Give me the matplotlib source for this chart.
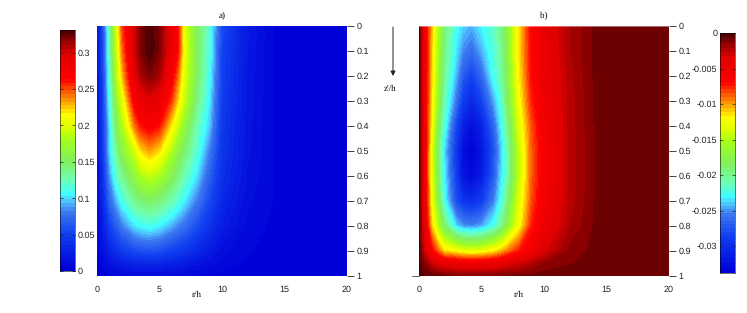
import numpy as np
import matplotlib
matplotlib.use('Agg')
import matplotlib.pyplot as plt
from matplotlib.colors import LinearSegmentedColormap

plt.rcParams['font.family'] = ['Liberation Sans', 'DejaVu Sans']
plt.rcParams['text.hinting'] = 'no_hinting'
plt.rcParams['text.hinting_factor'] = 1

# valores
r = [0, 0.5, 1, 1.5, 2, 3, 3.5, 4.2, 5, 6, 6.5, 7, 8, 9, 10, 12, 14, 20]
z = [0, 0.1, 0.2, 0.3, 0.4, 0.5, 0.6, 0.7, 0.8, 0.9, 0.95, 1.0]

phi_a = [
    [.012, .060, .125, .190, .250, .300, .320, .330, .320, .285, .260, .200, .150, .115, .055, .022, .0052, .004],
    [.012, .058, .120, .185, .240, .300, .320, .331, .320, .285, .260, .205, .150, .112, .052, .021, .0052, .004],
    [.012, .055, .115, .175, .225, .290, .310, .320, .310, .270, .240, .198, .148, .108, .050, .020, .0052, .004],
    [.011, .052, .108, .160, .200, .270, .285, .295, .285, .250, .220, .190, .140, .102, .047, .019, .0052, .004],
    [.010, .050, .100, .145, .180, .240, .260, .270, .260, .215, .190, .165, .125, .095, .044, .018, .0052, .004],
    [.010, .046, .098, .130, .160, .195, .220, .232, .220, .180, .160, .145, .115, .080, .042, .017, .0052, .004],
    [.009, .040, .085, .115, .135, .165, .180, .190, .180, .155, .140, .125, .100, .068, .038, .015, .0052, .004],
    [.008, .034, .070, .090, .110, .135, .143, .148, .143, .125, .115, .103, .080, .055, .032, .012, .0052, .004],
    [.006, .024, .050, .065, .080, .100, .106, .110, .104, .090, .082, .075, .058, .040, .024, .009, .0042, .004],
    [.004, .014, .028, .038, .046, .056, .058, .060, .058, .050, .046, .042, .032, .022, .012, .0055, .004, .004],
    [.002, .007, .014, .019, .024, .030, .031, .032, .030, .027, .025, .022, .017, .012, .007, .0045, .004, .004],
    [.000, .002, .004, .005, .006, .007, .007, .007, .007, .006, .006, .005, .004, .0035, .0035, .004, .004, .004],
]

phi_b = [
    [-.0005, -.0060, -.0105, -.0150, -.0190, -.0228, -.0238, -.0245, -.0231, -.0215, -.0200, -.0178, -.0115, -.0066, -.0045, -.0022, -.0010, -.0008],
    [-.0005, -.0060, -.0108, -.0155, -.0195, -.0235, -.0252, -.0262, -.0245, -.0220, -.0205, -.0180, -.0115, -.0068, -.0048, -.0022, -.0010, -.0008],
    [-.0005, -.0060, -.0110, -.0160, -.0200, -.0245, -.0270, -.0285, -.0265, -.0225, -.0210, -.0185, -.0118, -.0070, -.0050, -.0024, -.0010, -.0008],
    [-.0005, -.0060, -.0115, -.0165, -.0210, -.0260, -.0290, -.0305, -.0285, -.0245, -.0225, -.0190, -.0125, -.0075, -.0052, -.0025, -.0010, -.0008],
    [-.0005, -.0060, -.0120, -.0180, -.0220, -.0285, -.0310, -.0325, -.0310, -.0265, -.0235, -.0205, -.0135, -.0085, -.0056, -.0025, -.00106, -.0008],
    [-.0005, -.0060, -.0130, -.0190, -.0235, -.0295, -.0325, -.0338, -.0320, -.0275, -.0245, -.0215, -.0145, -.0088, -.0060, -.0026, -.00106, -.0008],
    [-.0005, -.0060, -.0130, -.0185, -.0230, -.0290, -.0320, -.0330, -.0315, -.0270, -.0240, -.0215, -.0145, -.0088, -.0060, -.0026, -.00106, -.0008],
    [-.0005, -.0058, -.0125, -.0175, -.0225, -.0280, -.0295, -.0300, -.0290, -.0255, -.0230, -.0200, -.0135, -.0085, -.0056, -.0025, -.00106, -.0008],
    [-.0005, -.0050, -.0110, -.0150, -.0190, -.0240, -.0250, -.0255, -.0248, -.0225, -.0205, -.0178, -.0125, -.0075, -.0050, -.0022, -.0010, -.0008],
    [-.0005, -.0035, -.0065, -.0090, -.0115, -.0125, -.0132, -.0135, -.0132, -.0120, -.0110, -.0098, -.0075, -.0055, -.0035, -.0015, -.0009, -.0008],
    [-.0004, -.0015, -.0030, -.0038, -.0045, -.0050, -.0052, -.0053, -.0052, -.0050, -.0045, -.0040, -.0032, -.0024, -.0016, -.0011, -.0009, -.0008],
    [-.0003, -.0006, -.0007, -.0008, -.0009, -.0012, -.0012, -.0012, -.0012, -.0011, -.0011, -.0010, -.0010, -.0009, -.0008, -.0008, -.0008, -.0008],
]

ticks_x = [0, 5, 10, 15, 20]
ticks_z = [0, .1, .2, .3, .4, .5, .6, .7, .8, .9, 1]
labels_z = ['0', '0.1', '0.2', '0.3', '0.4', '0.5', '0.6', '0.7', '0.8', '0.9', '1']
ticks_ca = [0, .05, .1, .15, .2, .25, .3]
labels_ca = ['0', '0.05', '0.1', '0.15', '0.2', '0.25', '0.3']
ticks_cb = [0, -.005, -.01, -.015, -.02, -.025, -.03]
labels_cb = ['0', '-0.005', '-0.01', '-0.015', '-0.02', '-0.025', '-0.03']

# mapa de cores parecido com o da figura (nao e o jet puro)
cores = [(0.0, '#0000d8'), (0.15, '#1040f0'), (0.24, '#3c78f0'), (0.287, '#50c8ff'), (0.317, '#40ffff'),
         (0.38, '#70ffb0'), (0.453, '#80f060'), (0.54, '#a0ff20'), (0.60, '#e0ff00'), (0.65, '#ffff00'),
         (0.725, '#ff8000'), (0.80, '#ff0000'), (0.906, '#e00000'), (0.965, '#900000'), (1.0, '#500000')]
mapa = LinearSegmentedColormap.from_list('figura', cores, N=64)

W, H = 747, 313
fig = plt.figure(figsize=(W/100, H/100), dpi=100)


def caixa(x0, y0, x1, y1):
    # caixa em pixels, origem no canto superior esquerdo
    return [x0/W, 1-y1/H, (x1-x0)/W, (y1-y0)/H]


def painel(box, dados, vmin, vmax, titulo, marcas_x, borda):
    ax = fig.add_axes(caixa(*box))
    niveis = np.linspace(vmin, vmax, 65)
    ax.contourf(r, z, np.clip(dados, vmin, vmax), levels=niveis, cmap=mapa, antialiased=False)
    ax.set_xlim(0, 20)
    ax.set_ylim(1, 0)
    ax.set_xticks(ticks_x)
    ax.set_xticks(marcas_x, minor=True)
    ax.set_yticks(ticks_z)
    ax.set_yticklabels(labels_z)
    ax.yaxis.tick_right()
    ax.tick_params(labelsize=6.5, length=5, width=0.6, pad=2, colors='#222222')
    ax.tick_params(axis='x', which='major', length=0, pad=7)
    ax.tick_params(axis='x', which='minor', length=5, width=0.6, colors='#444444')
    for s in ax.spines.values():
        s.set_visible(False)
    ax.spines[borda].set_visible(True)
    ax.spines[borda].set_color((1, 1, 1, 0.4))
    ax.spines[borda].set_linewidth(0.8)
    fig.text((box[0]+box[2])/2/W, 1-15.5/H, titulo, family='Liberation Serif', fontsize=6.5, ha='center', va='center')
    fig.text((box[0]+box[2])/2/W - 25/W, 1-295/H, 'r/h', family='Liberation Serif', fontsize=6.5, ha='center', va='center')
    return ax


def barra(box, vmin, vmax, ticks, labels, lado):
    cax = fig.add_axes(caixa(*box))
    grad = np.linspace(vmin, vmax, 64).reshape(-1, 1)
    cax.imshow(grad, aspect='auto', cmap=mapa, origin='lower', extent=[0, 1, vmin, vmax], interpolation='nearest')
    cax.set_xticks([])
    cax.set_yticks(ticks)
    cax.set_yticklabels(labels)
    cax.tick_params(labelsize=6.5, length=2, width=0.5, direction='in', pad=2, left=True, right=True,
                    labelleft=lado == 'left', labelright=lado == 'right', colors='#222222')
    for s in cax.spines.values():
        s.set_linewidth(0.4)
    return cax


painel((97, 26, 347, 276), phi_a, 0, .331, 'a)', [0, 20], 'bottom')
painel((419, 25.5, 669, 275.5), phi_b, -.0338, 0, 'b)', [0], 'top')
barra((60, 30, 75, 271), 0, .331, ticks_ca, labels_ca, 'right')
barra((720, 33, 735, 273), -.0338, 0, ticks_cb, labels_cb, 'left')

# seta z'/h e marca solta em z=1 no painel b
fig.add_artist(plt.Annotation('', xy=(393/W, 1-76/H), xytext=(393/W, 1-27/H), xycoords='figure fraction',
                              textcoords='figure fraction',
                              arrowprops=dict(arrowstyle='-|>', color='#222222', lw=0.7, mutation_scale=7, shrinkA=0, shrinkB=0)))
fig.text(390/W, 1-89/H, "z'/h", family='Liberation Serif', fontsize=6.5, ha='center', va='center')
fig.add_artist(plt.Line2D([412/W, 419/W], [1-275.5/H, 1-275.5/H], color='#444444', lw=0.6))

fig.savefig('out.png', dpi=100)
